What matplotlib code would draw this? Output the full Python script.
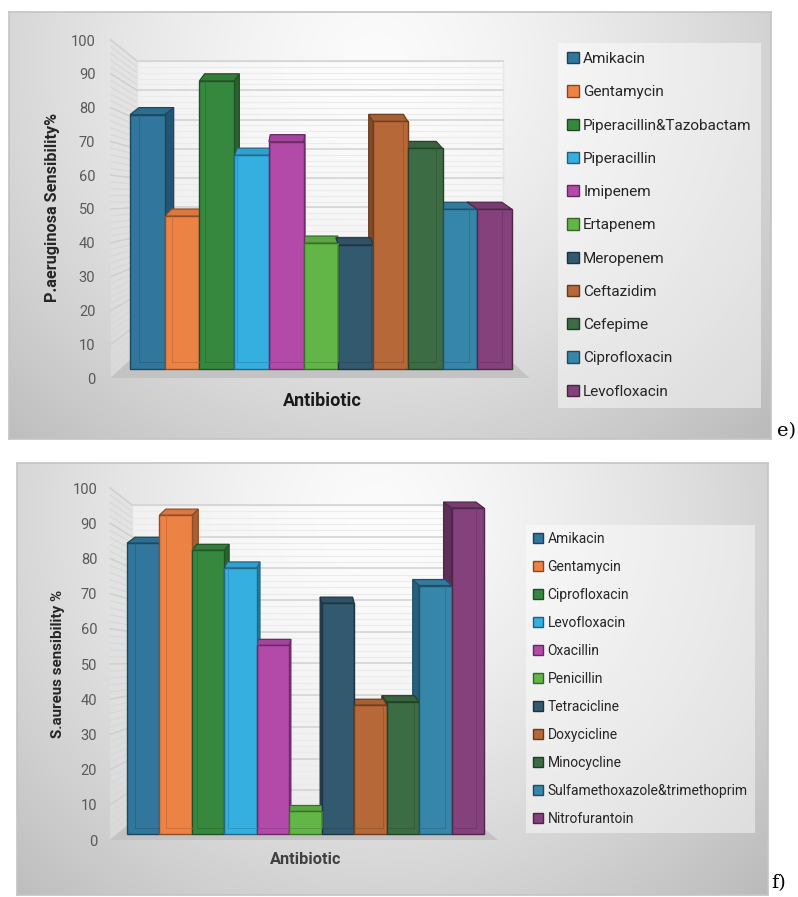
import numpy as np
import matplotlib
matplotlib.use("Agg")
import matplotlib.pyplot as plt
import matplotlib.colors as mcolors
from matplotlib.patches import Polygon, Patch

W, H = 798, 897

# P. aeruginosa panel (e)
pa_drugs = ["Amikacin", "Gentamycin", "Piperacillin&Tazobactam", "Piperacillin",
            "Imipenem", "Ertapenem", "Meropenem", "Ceftazidim", "Cefepime",
            "Ciprofloxacin", "Levofloxacin"]
pa_values = [80, 50, 90, 68, 72, 42, 41.5, 78, 70, 52, 52]

# S. aureus panel (f)
sa_drugs = ["Amikacin", "Gentamycin", "Ciprofloxacin", "Levofloxacin", "Oxacillin",
            "Penicillin", "Tetracicline", "Doxycicline", "Minocycline",
            "Sulfamethoxazole&trimethoprim", "Nitrofurantoin"]
sa_values = [86, 94, 84, 79, 57, 10, 69, 40, 41, 74, 96]

palette = ["#31769c", "#ed8245", "#37883f", "#35aee0", "#b34aaa", "#62b547",
           "#33596f", "#b66838", "#3c6c44", "#3686aa", "#84417c"]
yticks = list(range(0, 101, 10))

plt.rcParams["font.family"] = ["Roboto", "DejaVu Sans"]


def shade(c, f):
    rgb = np.array(mcolors.to_rgb(c))
    if f > 1:
        rgb = rgb + (1 - rgb) * (f - 1)
    else:
        rgb = rgb * f
    return tuple(np.clip(rgb, 0, 1))


def px_axes(fig, left, top, right, bottom, **kw):
    return fig.add_axes([left / W, 1 - bottom / H, (right - left) / W, (bottom - top) / H], **kw)


def background(fig, box):
    bg = px_axes(fig, *box)
    yy, xx = np.mgrid[0:1:200j, 0:1:300j]
    r = np.sqrt(((xx - 0.48) / 0.62) ** 2 + ((yy - 0.12) / 1.05) ** 2)
    v = 0.985 - 0.2 * np.clip(r, 0, 1.2) ** 1.4
    bg.imshow(np.dstack([v, v, v]), extent=(0, 1, 1, 0), aspect="auto", interpolation="bilinear")
    bg.set_xticks([])
    bg.set_yticks([])
    for s in bg.spines.values():
        s.set_color("#c4c4c4")
        s.set_linewidth(1.2)
    bg.set_zorder(0)
    return bg


def draw_panel(fig, g, drugs, values, ylabel, letter):
    background(fig, g["box"])
    ax = px_axes(fig, *g["plot"])
    ax.set_zorder(1)
    ax.patch.set_alpha(0)
    n = len(values)
    ax.set_xlim(0, n)
    ax.set_ylim(0, 100)

    wx = g["wall_x"]
    bl, br = g["back_x"]
    y0, s = g["back_y"]

    def back(v):
        return y0 + s * v

    # side wall, back wall and floor
    ax.add_patch(Polygon([(wx, 0), (bl, back(0)), (bl, back(100)), (wx, 100)],
                         closed=True, fc="#e2e2e2", ec="none", alpha=0.55, clip_on=False, zorder=1))
    for t in np.arange(0, 101, 2):
        major = t % 10 == 0
        ax.plot([wx, bl], [t, back(t)], color="#cfcfcf" if major else "#d8d8d8",
                lw=1.1 if major else 0.9, clip_on=False, zorder=1.1)
    ax.add_patch(Polygon([(bl, back(0)), (br, back(0)), (br, back(100)), (bl, back(100))],
                         closed=True, fc="white", ec="#d6d6d6", lw=1, alpha=0.45,
                         clip_on=False, zorder=1))
    for t in np.arange(0, 101, 2):
        major = t % 10 == 0
        ax.plot([bl, br], [back(t), back(t)], color="#d4d4d4" if major else "#ebebeb",
                lw=1.2 if major else 0.8, clip_on=False, zorder=1.1)
    ax.add_patch(Polygon([(wx, 0), (g["floor_right"], 0), (br, back(0)), (bl, back(0))],
                         closed=True, fc="#c3c3c3", ec="none", clip_on=False, zorder=1.2))

    # 3-D style columns
    b, dy = g["floor_y"], g["dy"]
    for i, (v, c) in enumerate(zip(values, palette)):
        x0, x1 = i, i + 1
        t = v - dy
        dx = g["k"] * (g["vp"] - i)
        edge = shade(c, 0.6)
        if dx > 0:
            side = [(x1, b), (x1 + dx, b + dy), (x1 + dx, t + dy), (x1, t)]
            inner_x = x0 + dx
        else:
            side = [(x0, b), (x0 + dx, b + dy), (x0 + dx, t + dy), (x0, t)]
            inner_x = x1 + dx
        ax.add_patch(Polygon(side, closed=True, fc=shade(c, 0.72), ec=edge, lw=0.9,
                             clip_on=False, zorder=3))
        top = [(x0, t), (x1, t), (x1 + dx, t + dy), (x0 + dx, t + dy)]
        ax.add_patch(Polygon(top, closed=True, fc=shade(c, 0.92), ec=edge, lw=0.9,
                             clip_on=False, zorder=4))
        ax.add_patch(Polygon([(x0, b), (x1, b), (x1, t), (x0, t)], closed=True,
                             fc=c, ec=edge, lw=1.0, clip_on=False, zorder=5))
        # back edges seen through the translucent front face
        hx0, hx1 = max(x0, x0 + dx), min(x1, x1 + dx)
        ax.plot([inner_x, inner_x], [b + dy, t], color=shade(c, 0.8),
                lw=0.7, alpha=0.7, clip_on=False, zorder=5.5)
        ax.plot([hx0, hx1], [b + dy, b + dy], color=shade(c, 0.8),
                lw=0.7, alpha=0.7, clip_on=False, zorder=5.5)

    for sp in ax.spines.values():
        sp.set_visible(False)
    ax.set_xticks([])
    ax.set_yticks(yticks)
    ax.tick_params(axis="y", length=0, pad=g["tick_pad"], labelsize=10.5, labelcolor="#595959")
    ax.set_xlabel("Antibiotic", fontsize=g["xl_size"], fontweight="bold", color=g["xl_color"])
    ax.xaxis.set_label_coords(g["xl_pos"][0], g["xl_pos"][1])
    ax.set_ylabel(ylabel, fontsize=g["yl_size"], fontweight="bold", color="#262626")
    ax.yaxis.set_label_coords(g["yl_pos"][0], g["yl_pos"][1])

    handles = [Patch(fc=c, ec=shade(c, 0.55), lw=1) for c in palette]
    leg = fig.legend(handles, drugs, loc="upper left",
                     bbox_to_anchor=(g["leg"][0] / W, 1 - g["leg"][1] / H),
                     frameon=True, fancybox=False, fontsize=g["leg_size"],
                     labelspacing=g["leg_space"], handlelength=0.75, handleheight=0.75,
                     handletextpad=0.3, borderpad=g["leg_pad"], borderaxespad=0,
                     labelcolor="#262626")
    leg.get_frame().set_facecolor("white")
    leg.get_frame().set_alpha(0.45)
    leg.get_frame().set_edgecolor("none")
    leg.set_zorder(6)

    fig.text(g["letter"][0] / W, 1 - g["letter"][1] / H, letter, fontsize=14,
             family="DejaVu Serif", ha="center", va="center")


fig = plt.figure(figsize=(W / 100, H / 100), dpi=100)
fig.patch.set_facecolor("white")

geom_e = dict(box=(9, 12, 771, 439), plot=(130, 40, 512, 378),
              wall_x=-0.55, back_x=(0.2, 10.75), back_y=(7.1, 0.867), floor_right=11.5,
              floor_y=2.66, dy=2.1, k=0.055, vp=4.7, tick_pad=25,
              xl_size=13, xl_color="#1a1a1a", xl_pos=(0.503, -0.041),
              yl_size=11.7, yl_pos=(-0.183, 0.506),
              leg=(558, 43), leg_size=11, leg_space=1.26, leg_pad=0.6, letter=(787, 431))

geom_f = dict(box=(17, 463, 768, 895), plot=(127, 488, 484, 840),
              wall_x=-0.52, back_x=(0.15, 10.75), back_y=(5.1, 0.901), floor_right=11.43,
              floor_y=1.7, dy=1.7, k=0.049, vp=5.0, tick_pad=21.5,
              xl_size=11.8, xl_color="#404040", xl_pos=(0.501, -0.035),
              yl_size=10.9, yl_pos=(-0.174, 0.5),
              leg=(526, 525), leg_size=10, leg_space=1.01, leg_pad=0.5, letter=(779, 883))

draw_panel(fig, geom_e, pa_drugs, pa_values, "P.aeruginosa Sensibility%", "e)")
draw_panel(fig, geom_f, sa_drugs, sa_values, "S.aureus sensibility %", "f)")

fig.savefig("out.png", dpi=100)
